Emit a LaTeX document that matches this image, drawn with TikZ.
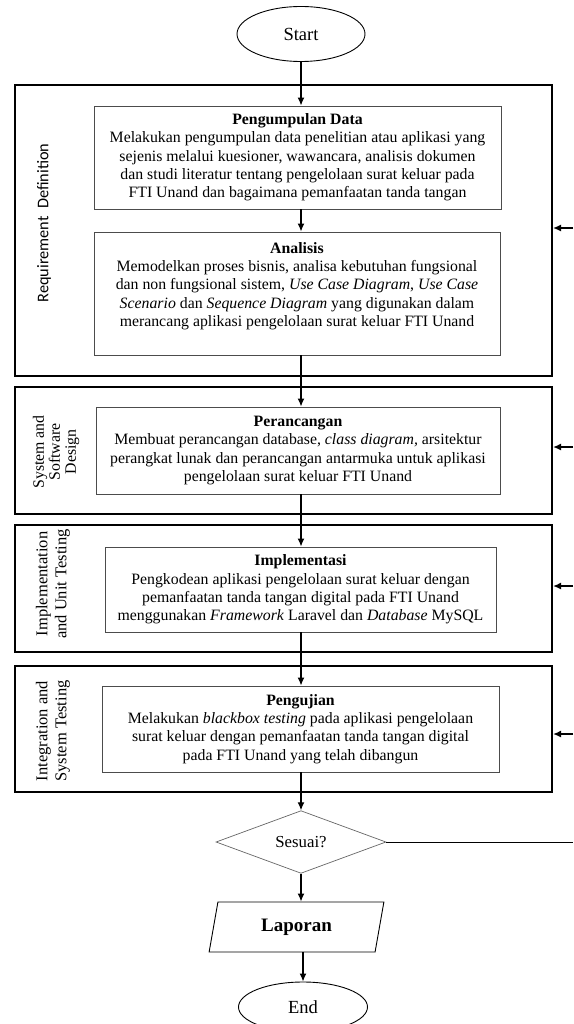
\documentclass[tikz,border=0pt]{standalone}
\usepackage{fontspec}
\setmainfont{Liberation Serif}
\newfontfamily\calfont{Carlito}
\usetikzlibrary{shapes.geometric,arrows.meta}
\begin{document}
\begin{tikzpicture}[x=1pt,y=-1pt,
  every node/.style={font=\fontsize{15.8}{18.3}\selectfont},
  outer/.style={draw=black,line width=2.2pt,inner sep=0pt},
  proc/.style={draw=black!70,line width=0.9pt,align=center,inner sep=0pt},
  conn/.style={line width=1.3pt,-{Latex[length=8pt,width=7pt]}},
  side/.style={rotate=90,align=center,inner sep=0pt},
  term/.style={draw=black,line width=0.9pt,ellipse,inner sep=0pt,font=\fontsize{18.5}{20}\selectfont}]
\clip (0,0) rectangle (573,1024);
\fill[white] (0,0) rectangle (573,1024);
% phase frames
\node[outer,minimum width=537,minimum height=291] (b1) at (283.5,230.5) {};
\node[outer,minimum width=537,minimum height=127] (b2) at (283.5,450.5) {};
\node[outer,minimum width=537,minimum height=127] (b3) at (283.5,588.5) {};
\node[outer,minimum width=537,minimum height=126] (b4) at (283.5,729) {};
% side labels
\node[side,font=\calfont\fontsize{16.3}{18}\selectfont] (l1) at (44,223) {Requirement~ Definition};
\node[side,font=\fontsize{15.8}{16}\selectfont] (l2) at (56,452) {System and\\Software\\Design};
\node[side,font=\fontsize{16.5}{19}\selectfont] (l3) at (53,584) {Implementation\\and Unit Testing};
\node[side,font=\fontsize{16.5}{19}\selectfont] (l4) at (53,731) {Integration and\\System Testing};
% terminals
\node[term,minimum width=128,minimum height=55] (start) at (301,34) {Start};
% process boxes
\node[proc,minimum width=407,minimum height=103] (p1) at (297.5,157.5)
  {\textbf{Pengumpulan Data}\\
   Melakukan pengumpulan data penelitian atau aplikasi yang\\
   sejenis melalui kuesioner, wawancara, analisis dokumen\\
   dan studi literatur tentang pengelolaan surat keluar pada\\
   FTI Unand dan bagaimana pemanfaatan tanda tangan};
\node[proc,minimum width=406,minimum height=123] (p2) at (297,293.5)
  {\textbf{Analisis}\\
   Memodelkan proses bisnis, analisa kebutuhan fungsional\\
   dan non fungsional sistem, \textit{Use Case Diagram}, \textit{Use Case}\\
   \textit{Scenario} dan \textit{Sequence Diagram} yang digunakan dalam\\
   merancang aplikasi pengelolaan surat keluar FTI Unand\\ \mbox{}};
\node[proc,minimum width=404,minimum height=87] (p3) at (298,450.5)
  {\textbf{Perancangan}\\
   Membuat perancangan database, \textit{class diagram,} arsitektur\\
   perangkat lunak dan perancangan antarmuka untuk aplikasi\\
   pengelolaan surat keluar FTI Unand};
\node[proc,minimum width=391,minimum height=85] (p4) at (300.5,589.5)
  {\textbf{Implementasi}\\
   Pengkodean aplikasi pengelolaan surat keluar dengan\\
   pemanfaatan tanda tangan digital pada FTI Unand\\
   menggunakan \textit{Framework} Laravel dan \textit{Database} MySQL};
\node[proc,minimum width=397,minimum height=86] (p5) at (300.5,729)
  {\textbf{Pengujian}\\
   Melakukan \textit{blackbox testing} pada aplikasi pengelolaan\\
   surat keluar dengan pemanfaatan tanda tangan digital\\
   pada FTI Unand yang telah dibangun};
\node[diamond,draw=black!60,line width=0.7pt,minimum width=170,minimum height=59,inner sep=0pt,
  font=\fontsize{16.8}{18}\selectfont] (dia) at (301,842) {Sesuai?};
\node[trapezium,trapezium left angle=76.5,trapezium right angle=103.5,trapezium stretches=true,
  draw=black,line width=0.9pt,minimum width=175,minimum height=50,inner sep=0pt,
  font=\bfseries\fontsize{19}{21}\selectfont] (lap) at (296.5,927) {Laporan};
\node[term,minimum width=129,minimum height=50] (end) at (303,1007) {End};
% connectors
\draw[conn] (start) -- (p1.north -| start);
\draw[conn] (p1.south -| start) -- (p2.north -| start);
\draw[conn] (p2.south -| start) -- (p3.north -| start);
\draw[conn] (p3.south -| start) -- (p4.north -| start);
\draw[conn] (p4.south -| start) -- (p5.north -| start);
\draw[conn] (p5.south -| start) -- (dia.north);
\draw[conn] (dia.south) -- (lap.north -| dia.south);
\draw[conn] (lap.south -| end) -- (end.north);
% feedback
\coordinate (r1) at (573,228);
\coordinate (r2) at (573,447);
\coordinate (r3) at (573,586);
\coordinate (r4) at (573,734);
\draw[line width=1pt] (dia.east) -- (dia.east -| r1);
\draw[conn] (r1) -- (r1 -| b1.east);
\draw[conn] (r2) -- (r2 -| b2.east);
\draw[conn] (r3) -- (r3 -| b3.east);
\draw[conn] (r4) -- (r4 -| b4.east);
\end{tikzpicture}
\end{document}
